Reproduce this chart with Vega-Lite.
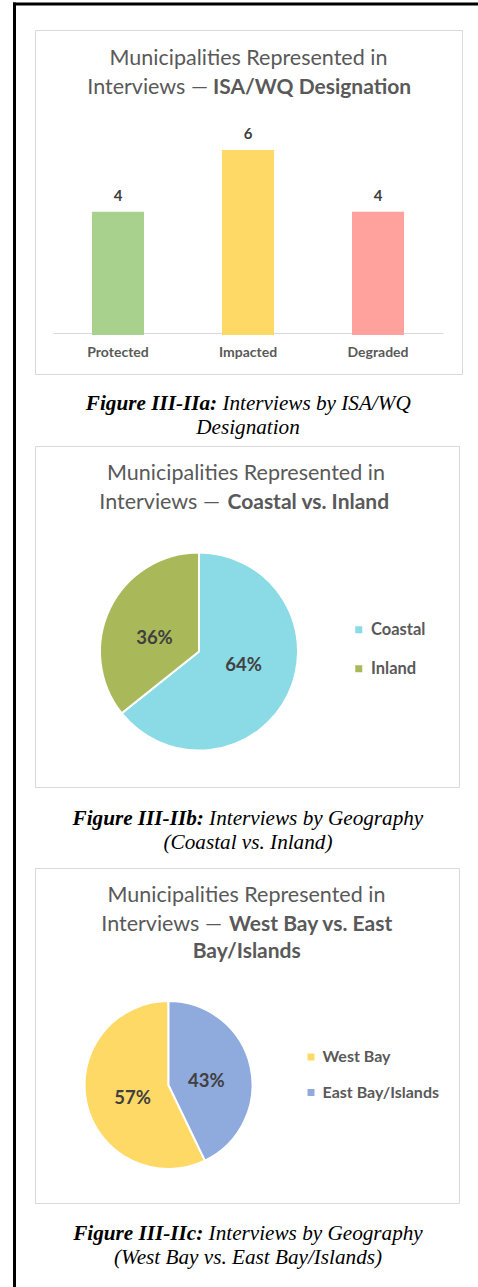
{
  "$schema": "https://vega.github.io/schema/vega-lite/v6.json",
  "width": 478,
  "height": 1287,
  "autosize": {"type": "fit", "contains": "padding"},
  "padding": 0,
  "background": "white",
  "config": {"view": {"stroke": null}, "font": "Lato"},
  "datasets": {
    "isa": [
      {"designation": "Protected", "count": 4},
      {"designation": "Impacted", "count": 6},
      {"designation": "Degraded", "count": 4}
    ],
    "coastal": [
      {"area": "Coastal", "count": 9, "share": 0.643},
      {"area": "Inland", "count": 5, "share": 0.357}
    ],
    "bay": [
      {"area": "West Bay", "count": 8, "share": 0.571},
      {"area": "East Bay/Islands", "count": 6, "share": 0.429}
    ],
    "one": [{}]
  },
  "layer": [
    {"data": {"name": "one"}, "mark": {"type": "rule", "strokeWidth": 3, "color": "#000000"},
      "encoding": {"x": {"value": 14.5}, "y": {"value": 2.5}, "y2": {"value": 1287}}},
    {"data": {"name": "one"}, "mark": {"type": "rule", "strokeWidth": 3, "color": "#000000"},
      "encoding": {"x": {"value": 13}, "x2": {"value": 478}, "y": {"value": 4}}},
    {"data": {"name": "one"}, "mark": {"type": "rect", "filled": false, "color": "#D9D9D9", "strokeWidth": 1},
      "encoding": {"x": {"value": 35.5}, "x2": {"value": 462.5}, "y": {"value": 30.5}, "y2": {"value": 374.5}}},
    {"data": {"name": "one"}, "mark": {"type": "rect", "filled": false, "color": "#D9D9D9", "strokeWidth": 1},
      "encoding": {"x": {"value": 35.5}, "x2": {"value": 459.5}, "y": {"value": 446.5}, "y2": {"value": 787.5}}},
    {"data": {"name": "one"}, "mark": {"type": "rect", "filled": false, "color": "#D9D9D9", "strokeWidth": 1},
      "encoding": {"x": {"value": 35.5}, "x2": {"value": 459.5}, "y": {"value": 868.5}, "y2": {"value": 1203.5}}},

    {"data": {"name": "one"}, "mark": {"type": "text", "text": "Municipalities Represented in", "x": 248.5, "y": 65, "align": "center", "baseline": "alphabetic", "font": "Lato", "fontSize": 21.5, "color": "#595959"}, "encoding": {}},
    {"data": {"name": "one"}, "mark": {"type": "text", "text": "Interviews —", "x": 208, "y": 93.5, "align": "right", "baseline": "alphabetic", "font": "Lato", "fontSize": 21.5, "color": "#595959"}, "encoding": {}},
    {"data": {"name": "one"}, "mark": {"type": "text", "text": "ISA/WQ Designation", "x": 213, "y": 93.5, "align": "left", "baseline": "alphabetic", "font": "Lato", "fontSize": 21, "fontWeight": "bold", "color": "#595959"}, "encoding": {}},

    {
      "data": {"name": "isa"},
      "encoding": {
        "x": {"field": "designation", "type": "nominal", "sort": ["Protected", "Impacted", "Degraded"],
          "scale": {"range": [53, 443], "paddingInner": 0.6, "paddingOuter": 0.3},
          "axis": {"orient": "bottom", "offset": -952, "title": null, "labelAngle": 0, "ticks": false, "tickSize": 0, "grid": false,
            "domainColor": "#D9D9D9", "domainWidth": 1, "labelFont": "Lato", "labelFontSize": 14, "labelFontWeight": "bold",
            "labelColor": "#595959", "labelBaseline": "alphabetic", "labelPadding": 23}},
        "y": {"field": "count", "type": "quantitative", "scale": {"domain": [0, 6], "range": [335, 150], "nice": false, "zero": true}, "axis": null}
      },
      "layer": [
        {
          "mark": {"type": "bar"},
          "encoding": {
            "color": {"field": "designation", "type": "nominal",
              "scale": {"domain": ["Protected", "Impacted", "Degraded"], "range": ["#A9D18E", "#FFD966", "#FFA19C"]}, "legend": null}
          }
        },
        {
          "mark": {"type": "text", "baseline": "alphabetic", "dy": -11, "font": "Lato", "fontSize": 15, "fontWeight": "bold", "color": "#404040"},
          "encoding": {
            "text": {"field": "count", "type": "quantitative"}
          }
        }
      ]
    },

    {"data": {"name": "one"}, "mark": {"type": "text", "text": "Figure III-IIa:", "x": 217.1, "y": 410, "align": "right", "baseline": "alphabetic", "font": "Liberation Serif", "fontSize": 21.2, "fontStyle": "italic", "fontWeight": "bold", "color": "#000000"}, "encoding": {}},
    {"data": {"name": "one"}, "mark": {"type": "text", "text": "Interviews by ISA/WQ", "x": 222.4, "y": 410, "align": "left", "baseline": "alphabetic", "font": "Liberation Serif", "fontSize": 21.2, "fontStyle": "italic", "color": "#000000"}, "encoding": {}},
    {"data": {"name": "one"}, "mark": {"type": "text", "text": "Designation", "x": 248, "y": 434, "align": "center", "baseline": "alphabetic", "font": "Liberation Serif", "fontSize": 21.2, "fontStyle": "italic", "color": "#000000"}, "encoding": {}},

    {"data": {"name": "one"}, "mark": {"type": "text", "text": "Municipalities Represented in", "x": 246, "y": 480, "align": "center", "baseline": "alphabetic", "font": "Lato", "fontSize": 21.5, "color": "#595959"}, "encoding": {}},
    {"data": {"name": "one"}, "mark": {"type": "text", "text": "Interviews —", "x": 220, "y": 508.5, "align": "right", "baseline": "alphabetic", "font": "Lato", "fontSize": 21.5, "color": "#595959"}, "encoding": {}},
    {"data": {"name": "one"}, "mark": {"type": "text", "text": "Coastal vs. Inland", "x": 227.5, "y": 508.5, "align": "left", "baseline": "alphabetic", "font": "Lato", "fontSize": 21, "fontWeight": "bold", "color": "#595959"}, "encoding": {}},

    {
      "data": {"name": "coastal"},
      "layer": [
        {
          "mark": {"type": "arc", "x": 199, "y": 651.5, "radius": 99, "stroke": "#FFFFFF", "strokeWidth": 2},
          "encoding": {
            "theta": {"field": "count", "type": "quantitative", "stack": true},
            "order": {"field": "area", "sort": "ascending"},
            "color": {"field": "area", "type": "nominal",
              "scale": {"domain": ["Coastal", "Inland"], "range": ["#8BDBE6", "#A9B858"]},
              "legend": {"orient": "none", "legendX": 350.5, "legendY": 621.5, "title": null, "padding": 0,
                "symbolType": "square", "symbolSize": 49, "symbolStrokeWidth": 0, "labelFont": "Lato", "labelFontSize": 16.5,
                "labelFontWeight": "bold", "labelColor": "#595959", "labelOffset": 4, "rowPadding": 22}}
          }
        },
        {
          "mark": {"type": "text", "x": 199, "y": 651.5, "radius": 46.5, "baseline": "middle", "font": "Lato", "fontSize": 18.5, "fontWeight": "bold", "color": "#404040"},
          "encoding": {
            "theta": {"field": "count", "type": "quantitative", "stack": true, "scale": {"range": [-0.157, 6.126]}},
            "order": {"field": "area", "sort": "ascending"},
            "detail": {"field": "area", "type": "nominal"},
            "text": {"field": "share", "type": "quantitative", "format": ".0%"}
          }
        }
      ],
      "resolve": {"scale": {"theta": "independent"}}
    },

    {"data": {"name": "one"}, "mark": {"type": "text", "text": "Figure III-IIb:", "x": 203.8, "y": 824.5, "align": "right", "baseline": "alphabetic", "font": "Liberation Serif", "fontSize": 21.2, "fontStyle": "italic", "fontWeight": "bold", "color": "#000000"}, "encoding": {}},
    {"data": {"name": "one"}, "mark": {"type": "text", "text": "Interviews by Geography", "x": 209.1, "y": 824.5, "align": "left", "baseline": "alphabetic", "font": "Liberation Serif", "fontSize": 21.2, "fontStyle": "italic", "color": "#000000"}, "encoding": {}},
    {"data": {"name": "one"}, "mark": {"type": "text", "text": "(Coastal vs. Inland)", "x": 248, "y": 848.5, "align": "center", "baseline": "alphabetic", "font": "Liberation Serif", "fontSize": 21.2, "fontStyle": "italic", "color": "#000000"}, "encoding": {}},

    {"data": {"name": "one"}, "mark": {"type": "text", "text": "Municipalities Represented in", "x": 246.5, "y": 902, "align": "center", "baseline": "alphabetic", "font": "Lato", "fontSize": 21.5, "color": "#595959"}, "encoding": {}},
    {"data": {"name": "one"}, "mark": {"type": "text", "text": "Interviews —", "x": 222, "y": 930.5, "align": "right", "baseline": "alphabetic", "font": "Lato", "fontSize": 21.5, "color": "#595959"}, "encoding": {}},
    {"data": {"name": "one"}, "mark": {"type": "text", "text": "West Bay vs. East", "x": 229, "y": 930.5, "align": "left", "baseline": "alphabetic", "font": "Lato", "fontSize": 21, "fontWeight": "bold", "color": "#595959"}, "encoding": {}},
    {"data": {"name": "one"}, "mark": {"type": "text", "text": "Bay/Islands", "x": 246.7, "y": 958, "align": "center", "baseline": "alphabetic", "font": "Lato", "fontSize": 21, "fontWeight": "bold", "color": "#595959"}, "encoding": {}},

    {
      "data": {"name": "bay"},
      "layer": [
        {
          "mark": {"type": "arc", "x": 168.5, "y": 1085, "radius": 84, "stroke": "#FFFFFF", "strokeWidth": 2},
          "encoding": {
            "theta": {"field": "count", "type": "quantitative", "stack": true},
            "order": {"field": "area", "sort": "ascending"},
            "color": {"field": "area", "type": "nominal",
              "scale": {"domain": ["West Bay", "East Bay/Islands"], "range": ["#FFD966", "#8FAADC"]},
              "legend": {"orient": "none", "legendX": 303, "legendY": 1049, "title": null, "padding": 0,
                "symbolType": "square", "symbolSize": 49, "symbolStrokeWidth": 0, "labelFont": "Lato", "labelFontSize": 16,
                "labelFontWeight": "bold", "labelColor": "#595959", "labelOffset": 3.5, "rowPadding": 19.5}}
          }
        },
        {
          "mark": {"type": "text", "x": 168.5, "y": 1085, "radius": 38, "baseline": "middle", "font": "Lato", "fontSize": 18.5, "fontWeight": "bold", "color": "#404040"},
          "encoding": {
            "theta": {"field": "count", "type": "quantitative", "stack": true, "scale": {"range": [0.234, 6.032]}},
            "order": {"field": "area", "sort": "ascending"},
            "detail": {"field": "area", "type": "nominal"},
            "text": {"field": "share", "type": "quantitative", "format": ".0%"}
          }
        }
      ],
      "resolve": {"scale": {"theta": "independent"}}
    },

    {"data": {"name": "one"}, "mark": {"type": "text", "text": "Figure III-IIc:", "x": 203.3, "y": 1239.5, "align": "right", "baseline": "alphabetic", "font": "Liberation Serif", "fontSize": 21.2, "fontStyle": "italic", "fontWeight": "bold", "color": "#000000"}, "encoding": {}},
    {"data": {"name": "one"}, "mark": {"type": "text", "text": "Interviews by Geography", "x": 208.6, "y": 1239.5, "align": "left", "baseline": "alphabetic", "font": "Liberation Serif", "fontSize": 21.2, "fontStyle": "italic", "color": "#000000"}, "encoding": {}},
    {"data": {"name": "one"}, "mark": {"type": "text", "text": "(West Bay vs. East Bay/Islands)", "x": 248, "y": 1263.5, "align": "center", "baseline": "alphabetic", "font": "Liberation Serif", "fontSize": 21.2, "fontStyle": "italic", "color": "#000000"}, "encoding": {}}
  ],
  "resolve": {
    "scale": {"x": "independent", "y": "independent", "color": "independent", "theta": "independent"},
    "legend": {"color": "independent"}
  }
}
